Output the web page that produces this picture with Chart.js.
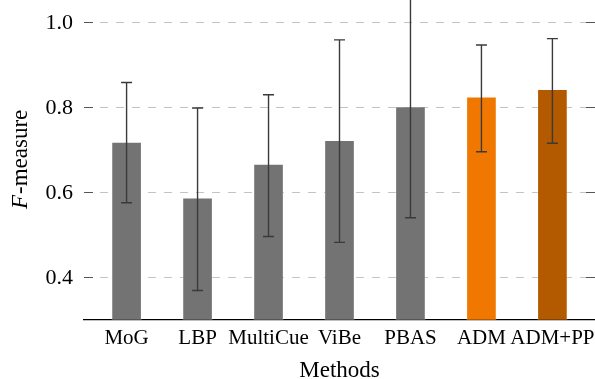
<!DOCTYPE html>
<html>
<head>
<meta charset="utf-8">
<script src="https://cdn.jsdelivr.net/npm/chart.js@4"></script>
<style>
  html, body { margin: 0; padding: 0; background: #fff; }
  #wrap { width: 595px; height: 379px; }
</style>
</head>
<body>
<div id="wrap"><canvas id="grafica"></canvas></div>
<script>
// datos
const metodos = ['MoG', 'LBP', 'MultiCue', 'ViBe', 'PBAS', 'ADM', 'ADM+PP'];
const fMedia = [0.718, 0.587, 0.666, 0.722, 0.801, 0.824, 0.842];
const errInferior = [0.575, 0.369, 0.496, 0.482, 0.540, 0.695, 0.715];
const errSuperior = [0.858, 0.798, 0.829, 0.958, 1.062, 0.946, 0.961];
const ticksY = [0.4, 0.6, 0.8, 1.0];
const colores = ['#737373', '#737373', '#737373', '#737373', '#737373', '#f07800', '#b35900'];

const fuente = "'Liberation Serif', 'DejaVu Serif', serif";
Chart.defaults.font.family = fuente;

// Barras de error, etiquetas y marcas del eje Y, titulos de ejes
const plugExtra = {
    id: 'extra',
    afterDatasetsDraw(chart) {
        const ctx = chart.ctx;
        const x = chart.scales.x, y = chart.scales.y;
        const area = chart.chartArea;
        ctx.save();
        ctx.beginPath();
        ctx.rect(area.left, area.top, area.right - area.left, area.bottom - area.top);
        ctx.clip();
        ctx.strokeStyle = '#3a3a3a';
        ctx.lineWidth = 1.4;
        metodos.forEach((m, i) => {
            const px = x.getPixelForValue(i);
            const y1 = y.getPixelForValue(errInferior[i]);
            const y2 = y.getPixelForValue(errSuperior[i]);
            ctx.beginPath();
            ctx.moveTo(px, y1); ctx.lineTo(px, y2);
            ctx.moveTo(px - 5.5, y1); ctx.lineTo(px + 5.5, y1);
            ctx.moveTo(px - 5.5, y2); ctx.lineTo(px + 5.5, y2);
            ctx.stroke();
        });
        ctx.restore();
    },
    afterDraw(chart) {
        const ctx = chart.ctx;
        const y = chart.scales.y;
        const area = chart.chartArea;
        ctx.save();
        ctx.strokeStyle = '#555';
        ctx.lineWidth = 1;
        ctx.fillStyle = '#000';
        ctx.font = "22px " + fuente;
        ctx.textAlign = 'right';
        ctx.textBaseline = 'middle';
        ticksY.forEach(v => {
            const py = Math.round(y.getPixelForValue(v)) + 0.5;
            ctx.beginPath();
            ctx.moveTo(area.left, py); ctx.lineTo(area.left + 9, py);
            ctx.moveTo(area.right - 9, py); ctx.lineTo(area.right, py);
            ctx.stroke();
            ctx.fillText(v.toFixed(1), area.left - 11, py + 1);
        });
        // titulo del eje X
        ctx.textAlign = 'center';
        ctx.textBaseline = 'alphabetic';
        ctx.font = "23px " + fuente;
        ctx.fillText('Methods', (area.left + area.right) / 2, 377);
        // titulo del eje Y con F en cursiva
        ctx.translate(21, (area.top + area.bottom) / 2);
        ctx.rotate(-Math.PI / 2);
        ctx.textAlign = 'left';
        ctx.textBaseline = 'middle';
        ctx.font = "italic 23px " + fuente;
        const wF = ctx.measureText('F').width;
        ctx.font = "23px " + fuente;
        const wR = ctx.measureText('-measure').width;
        const x0 = -(wF + wR) / 2;
        ctx.font = "italic 23px " + fuente;
        ctx.fillText('F', x0, 0);
        ctx.font = "23px " + fuente;
        ctx.fillText('-measure', x0 + wF + 1, 0);
        ctx.restore();
    }
};

const grafica = new Chart(document.getElementById('grafica'), {
    type: 'bar',
    data: {
        datasets: [{
            label: 'F-measure',
            data: fMedia.map((v, i) => ({ x: i, y: v })),
            backgroundColor: colores,
            borderColor: 'rgba(255, 255, 255, 0.25)',
            borderWidth: 1,
            barThickness: 30
        }]
    },
    options: {
        responsive: true,
        maintainAspectRatio: false,
        animation: false,
        layout: { padding: { left: 84, right: 0, top: 0, bottom: 22 } },
        plugins: {
            legend: { display: false },
            tooltip: { enabled: false }
        },
        scales: {
            x: {
                type: 'linear',
                offset: false,
                min: -0.6,
                max: 6.6,
                afterBuildTicks: (s) => { s.ticks = metodos.map((m, i) => ({ value: i })); },
                afterFit: (s) => { s.paddingLeft = 0; s.paddingRight = 0; },
                grid: { display: false, drawTicks: false, offset: false },
                border: { display: true, color: '#000', width: 1.3 },
                ticks: {
                    color: '#000',
                    font: { size: 21 },
                    padding: 6,
                    autoSkip: false,
                    maxRotation: 0,
                    callback: (v) => metodos[v] || ''
                }
            },
            y: {
                min: 0.3,
                max: 1.0518,
                afterBuildTicks: (s) => { s.ticks = ticksY.map(v => ({ value: v })); },
                ticks: { display: false },
                border: { display: false, dash: [8, 8] },
                grid: { color: '#c4c4c4', lineWidth: 1, drawTicks: false, tickLength: 0 }
            }
        }
    },
    plugins: [plugExtra]
});
</script>
</body>
</html>
